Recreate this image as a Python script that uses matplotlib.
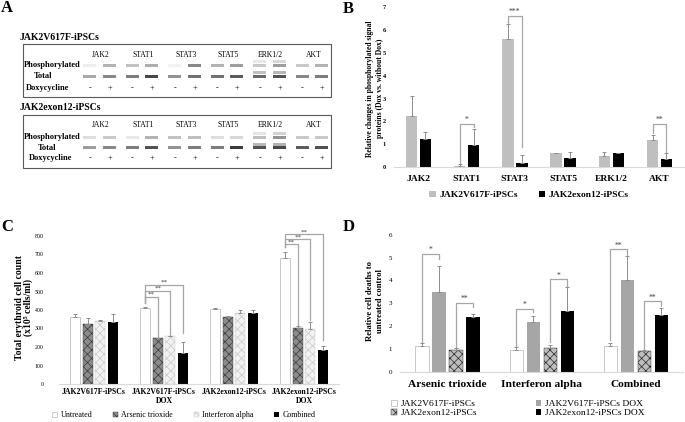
import numpy as np
import matplotlib
matplotlib.use('Agg')
import matplotlib.pyplot as plt
from matplotlib.patches import Rectangle

plt.rcParams['font.family'] = ['Liberation Serif', 'DejaVu Serif']
plt.rcParams['hatch.linewidth'] = 0.5

# ---- panel A: western blot band intensities (0 = none, 1 = black), pairs of (-Dox, +Dox)
proteins = ['JAK2', 'STAT1', 'STAT3', 'STAT5', 'ERK1/2', 'AKT']
v617f_phos = [0.08, 0.35, 0.28, 0.38, 0.06, 0.55, 0.35, 0.45, 0.25, 0.45, 0.25, 0.35]
v617f_total = [0.40, 0.55, 0.60, 0.85, 0.50, 0.65, 0.65, 0.75, 0.70, 0.80, 0.55, 0.60]
exon12_phos = [0.15, 0.25, 0.10, 0.35, 0.28, 0.30, 0.15, 0.18, 0.30, 0.50, 0.25, 0.25]
exon12_total = [0.45, 0.55, 0.60, 0.80, 0.50, 0.60, 0.60, 0.90, 0.80, 0.85, 0.75, 0.80]
dox_signs = ['-', '+']

# ---- panel B
b_labels = ['JAK2', 'STAT1', 'STAT3', 'STAT5', 'ERK1/2', 'AKT']
b_v617f = [2.24, 0.03, 5.6, 0.6, 0.48, 1.17]
b_v617f_err = [0.87, 0.10, 0.67, 0.03, 0.19, 0.23]
b_exon12 = [1.23, 0.96, 0.16, 0.38, 0.6, 0.35]
b_exon12_err = [0.29, 0.71, 0.37, 0.29, 0.02, 0.25]
b_sig = [(1, '*', 1.89, 0.16, 1.77), (2, '***', 6.62, 6.3, 0.89), (5, '**', 1.89, 1.48, 0.67)]

# ---- panel C
c_groups = ['JAK2V617F-iPSCs', 'JAK2V617F-iPSCs\nDOX', 'JAK2exon12-iPSCs', 'JAK2exon12-iPSCs\nDOX']
c_series = ['Untreated', 'Arsenic trioxide', 'Interferon alpha', 'Combined']
c_untreated = [360, 409, 404, 683]
c_untreated_err = [16, 7, 9, 32]
c_arsenic = [324, 247, 360, 303]
c_arsenic_err = [31, 3, 8, 11]
c_interferon = [339, 258, 382, 297]
c_interferon_err = [9, 4, 18, 40]
c_combined = [335, 169, 382, 186]
c_combined_err = [45, 60, 18, 19]
# (group, target series, bracket height, left end, right end)
c_sig = [(1, 1, 472, 436, 256), (1, 2, 504, 436, 265), (1, 3, 535, 436, 274),
         (3, 1, 755, 739, 320), (3, 2, 782, 739, 345), (3, 3, 809, 739, 238)]

# ---- panel D
d_groups = ['Arsenic trioxide', 'Interferon alpha', 'Combined']
d_v617f = [1.13, 0.96, 1.13]
d_v617f_err = [0.15, 0.11, 0.12]
d_v617f_dox = [3.5, 2.2, 4.0]
d_v617f_dox_err = [1.13, 0.25, 1.08]
d_exon12 = [0.96, 1.06, 0.92]
d_exon12_err = [0.10, 0.12, 0.03]
d_exon12_dox = [2.4, 2.68, 2.49]
d_exon12_dox_err = [0.13, 1.04, 0.31]
# (group, first bar, second bar, label, height, left end, right end)
d_sig = [(0, 0, 1, '*', 5.17, 1.3, 4.95), (0, 2, 3, '**', 3.0, 1.1, 2.85),
         (1, 0, 1, '*', 2.74, 1.12, 2.6), (1, 2, 3, '*', 4.04, 1.3, 3.75),
         (2, 0, 1, '**', 5.35, 1.4, 5.1), (2, 2, 3, '**', 3.08, 1.0, 2.9)]

W, H = 685, 422
fig = plt.figure(figsize=(W / 100, H / 100), dpi=100)


def px_axes(l, t, r, b):
    return fig.add_axes([l / W, 1 - b / H, (r - l) / W, (b - t) / H])


ov = fig.add_axes([0, 0, 1, 1])
ov.set_xlim(0, W)
ov.set_ylim(H, 0)
ov.axis('off')

for lab, x, y in [('A', 7, 8), ('B', 348, 9), ('C', 7, 227), ('D', 349, 227)]:
    ov.text(x, y, lab, fontsize=12, fontweight='bold', ha='center', va='center')

# ---------------- panel A
lane_minus = 90 + 42.5 * np.arange(len(proteins))
lanes = np.ravel(np.column_stack([lane_minus, lane_minus + 19.5]))


def blot(title, ty, top, bottom, rows, phos, total, xs_lab, erk_gap):
    ov.text(20, ty, title, fontsize=7, fontweight='bold', ha='left', va='center')
    ov.add_patch(Rectangle((23, top), 308, bottom - top, fill=False, ec='#595959', lw=0.8))
    ylab, yph, ytot, ydox = rows
    for i, p in enumerate(proteins):
        ov.text((lanes[2 * i] + lanes[2 * i + 1]) / 2 + 1, ylab, p, fontsize=5.5,
                ha='center', va='center')
    ov.text(52, yph, 'Phosphorylated', fontsize=6, fontweight='bold', ha='center', va='center')
    ov.text(xs_lab[0], ytot, 'Total', fontsize=6, fontweight='bold', ha='center', va='center')
    ov.text(xs_lab[1], ydox, 'Doxycycline', fontsize=6, fontweight='bold', ha='center', va='center')
    for j, x in enumerate(lanes):
        for yy, val in [(yph, phos[j]), (ytot, total[j])]:
            g = 1 - 0.85 * val
            ov.add_patch(Rectangle((x - 6.5, yy - 1.5), 13, 3, color=str(g), lw=0))
            if proteins[j // 2] == 'ERK1/2':
                g2 = 1 - 0.35 * val
                ov.add_patch(Rectangle((x - 6.5, yy - erk_gap - 1.5), 13, 3, color=str(g2), lw=0))
        ov.text(x, ydox, dox_signs[j % 2], fontsize=6, ha='center', va='center')


blot('JAK2V617F-iPSCs', 38, 44, 97, (55, 65, 76, 88), v617f_phos, v617f_total, (43, 48), 4)
blot('JAK2exon12-iPSCs', 108, 115, 168, (125, 137, 147.5, 158), exon12_phos, exon12_total, (47, 51), 3.5)

err_kw = dict(ecolor='#8c8c8c', elinewidth=0.7, capsize=1.5, capthick=0.7)
br_col = '#a6a6a6'
star_col = '#404040'


def bracket(ax, x1, x2, y, y1, y2, txt, fs=5.5):
    ax.plot([x1, x1, x2, x2], [y1, y, y, y2], color=br_col, lw=0.9, clip_on=False)
    ax.text((x1 + x2) / 2, y, txt, fontsize=fs, color=star_col, ha='center', va='bottom',
            clip_on=False)


def style(ax):
    for s in ['top', 'right', 'left']:
        ax.spines[s].set_visible(False)
    ax.spines['bottom'].set_color('#d9d9d9')
    ax.spines['bottom'].set_linewidth(0.8)
    ax.tick_params(axis='both', length=0)


# ---------------- panel B
axb = px_axes(394.4, 7.4, 683.6, 167)
xb = np.arange(len(b_labels))
zb = np.zeros(len(b_labels))
hb1 = axb.bar(xb - 0.145, b_v617f, 0.24, color='#bfbfbf', yerr=[zb, b_v617f_err], error_kw=err_kw)
hb2 = axb.bar(xb + 0.145, b_exon12, 0.24, color='black', yerr=[zb, b_exon12_err], error_kw=err_kw)
axb.set_xlim(-0.5, len(b_labels) - 0.5)
axb.set_ylim(0, 7)
style(axb)
axb.set_xticks(xb)
axb.set_xticklabels(b_labels, fontsize=6.8, fontweight='bold')
axb.set_yticks(range(8))
axb.set_yticklabels([str(v) for v in range(8)], fontsize=4.5, fontweight='bold')
axb.tick_params(axis='x', pad=6)
axb.tick_params(axis='y', pad=6)
axb.text(-0.067, 0.49, 'Relative changes in phosphorylated signal\nproteins (Dox vs. without Dox)',
         transform=axb.transAxes, rotation=90, ha='center', va='center', fontsize=5.5,
         fontweight='bold')
for i, txt, yh, y1, y2 in b_sig:
    bracket(axb, i - 0.145, i + 0.145, yh, y1, y2, txt)
axb.legend([hb1, hb2], ['JAK2V617F-iPSCs', 'JAK2exon12-iPSCs'], ncol=2, frameon=False,
           loc='center', bbox_to_anchor=(529 / W, 1 - 195 / H), bbox_transform=fig.transFigure,
           prop={'size': 6.8, 'weight': 'bold'}, handlelength=0.7, handleheight=0.7,
           handletextpad=0.4, columnspacing=2.2, borderpad=0)

# ---------------- panel C
axc = px_axes(59, 236, 339, 384)
xc = np.arange(len(c_groups))
zc = np.zeros(len(c_groups))
c_vals = [(c_untreated, c_untreated_err), (c_arsenic, c_arsenic_err),
          (c_interferon, c_interferon_err), (c_combined, c_combined_err)]
c_style = [dict(color='white', edgecolor='#bfbfbf', linewidth=0.6),
           dict(color='#8c8c8c', edgecolor='#3a3a3a', hatch='xxxx', linewidth=0.3),
           dict(color='#f2f2f2', edgecolor='#c8c8c8', hatch='xxxx', linewidth=0.3),
           dict(color='black')]
c_off = (np.arange(4) - 1.5) * 0.18
hc = []
for k, (vals, errs) in enumerate(c_vals):
    hc.append(axc.bar(xc + c_off[k], vals, 0.143, yerr=[zc, errs], error_kw=err_kw,
                      **c_style[k]))
axc.set_xlim(-0.5, len(c_groups) - 0.5)
axc.set_ylim(0, 800)
style(axc)
axc.set_xticks(xc)
axc.set_xticklabels(c_groups, fontsize=5.6, fontweight='bold', linespacing=1.15)
axc.set_yticks(range(0, 801, 100))
axc.set_yticklabels([str(v) for v in range(0, 801, 100)], fontsize=4.2)
axc.tick_params(axis='x', pad=3)
axc.tick_params(axis='y', pad=11)
axc.text(-0.125, 0.52, 'Total erythroid cell count\n(x10\u2075 cells/ml)', transform=axc.transAxes,
         rotation=90, ha='center', va='center', fontsize=6.9, fontweight='bold', linespacing=1.0)
for g, s, yh, y1, y2 in c_sig:
    bracket(axc, g + c_off[0], g + c_off[s], yh, y1, y2, '**', fs=5)
axc.legend(hc, c_series, ncol=4, frameon=False, loc='center',
           bbox_to_anchor=(184 / W, 1 - 415 / H), bbox_transform=fig.transFigure,
           prop={'size': 5.8}, handlelength=0.6, handleheight=0.6, handletextpad=0.4,
           columnspacing=2.6, borderpad=0)

# ---------------- panel D
axd = px_axes(400.4, 234.6, 683, 372)
xd = np.arange(len(d_groups))
zd = np.zeros(len(d_groups))
d_vals = [(d_v617f, d_v617f_err), (d_v617f_dox, d_v617f_dox_err),
          (d_exon12, d_exon12_err), (d_exon12_dox, d_exon12_dox_err)]
d_names = ['JAK2V617F-iPSCs', 'JAK2V617F-iPSCs DOX', 'JAK2exon12-iPSCs', 'JAK2exon12-iPSCs DOX']
d_style = [dict(color='white', edgecolor='#bfbfbf', linewidth=0.6),
           dict(color='#a6a6a6'),
           dict(color='#bdbdbd', edgecolor='#262626', hatch='xxxx', linewidth=0.3),
           dict(color='black')]
d_off = (np.arange(4) - 1.5) * 0.18
hd = []
for k, (vals, errs) in enumerate(d_vals):
    hd.append(axd.bar(xd + d_off[k], vals, 0.14, yerr=[zd, errs], error_kw=err_kw,
                      **d_style[k]))
axd.set_xlim(-0.5, len(d_groups) - 0.5)
axd.set_ylim(0, 6)
style(axd)
axd.set_xticks(xd)
axd.set_xticklabels(d_groups, fontsize=8.2, fontweight='bold')
axd.set_yticks(range(7))
axd.set_yticklabels([str(v) for v in range(7)], fontsize=5)
axd.tick_params(axis='x', pad=6)
axd.tick_params(axis='y', pad=6)
axd.text(-0.09, 0.52, 'Relative cell deaths to\nuntreated control', transform=axd.transAxes,
         rotation=90, ha='center', va='center', fontsize=6.2, fontweight='bold')
for g, a, b, txt, yh, y1, y2 in d_sig:
    bracket(axd, g + d_off[a], g + d_off[b], yh, y1, y2, txt)
axd.legend([hd[0], hd[2], hd[1], hd[3]], [d_names[0], d_names[2], d_names[1], d_names[3]],
           ncol=2, frameon=False, loc='center',
           bbox_to_anchor=(518 / W, 1 - 408.5 / H), bbox_transform=fig.transFigure,
           prop={'size': 6.8}, handlelength=0.6, handleheight=0.6, handletextpad=0.4,
           columnspacing=6.2, labelspacing=0.05, borderpad=0)

fig.savefig('out.png', dpi=100)
